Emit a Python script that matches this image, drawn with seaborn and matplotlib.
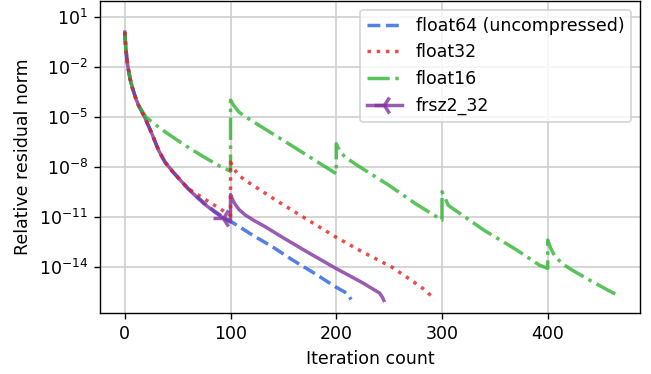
import numpy as np
import pandas as pd
import matplotlib
matplotlib.use("Agg")
import matplotlib.pyplot as plt
from matplotlib.ticker import FixedLocator, NullLocator
import seaborn as sns

# values (log10 of the relative residual norm)
head_iter = [0, 1, 2, 3, 5, 7, 10, 13, 18, 25, 32, 38, 45, 52, 60]
head_log = [0.1, -0.9, -1.5, -2.0, -2.7, -3.2, -3.8, -4.3, -4.9, -5.9, -7.0, -7.7, -8.25, -8.75, -9.3]

f64_iter = head_iter + [68, 75, 85, 93, 100, 120, 140, 158, 180, 199, 208, 212, 214]
f64_log = head_log + [-9.75, -10.15, -10.65, -11.0, -11.25, -12.05, -12.8, -13.55, -14.4, -15.18, -15.5, -15.75, -15.95]

f32_iter = head_iter + [70, 80, 90, 100, 100, 103, 108, 114, 125, 142, 170, 199, 225, 252, 270, 284, 290, 292]
f32_log = head_log + [-9.7, -10.1, -10.5, -10.9, -7.7, -8.1, -8.5, -8.8, -9.25, -9.95, -11.05, -12.18,
                      -13.1, -13.98, -14.75, -15.38, -15.75, -16.0]

f16_iter = head_iter[:8] + [20, 35, 57, 75, 90, 100, 100, 103, 108, 114, 150, 170, 200, 200, 203, 208,
                            220, 250, 275, 300, 300, 303, 306, 315, 340, 370, 392, 400, 400, 403, 407,
                            415, 423, 440, 462, 464]
f16_log = head_log[:8] + [-5.0, -5.75, -6.7, -7.4, -7.95, -8.25, -3.98, -4.3, -4.7, -4.98, -6.4, -7.2,
                          -8.4, -6.6, -7.0, -7.38, -7.9, -9.1, -10.2, -11.18, -9.48, -9.88, -10.3, -10.7,
                          -11.8, -12.95, -13.88, -14.08, -12.38, -12.9, -13.38, -13.85, -14.18, -14.8,
                          -15.56, -15.6]

frsz_iter = head_iter + [68, 75, 85, 93, 100, 100, 103, 108, 114, 122, 132, 150, 170, 199, 212, 225, 241, 244, 245]
frsz_log = head_log + [-9.8, -10.2, -10.7, -11.05, -11.3, -9.65, -10.1, -10.55, -10.88, -11.2, -11.55,
                       -12.25, -13.0, -14.06, -14.5, -14.95, -15.56, -15.85, -16.0]

labels = ["float64 (uncompressed)", "float32", "float16", "frsz2_32"]
series = [(f64_iter, f64_log), (f32_iter, f32_log), (f16_iter, f16_log), (frsz_iter, frsz_log)]
colors = ["#285fe1", "#e61e1e", "#32b432", "#8232a0"]
styles = ["--", ":", "-.", "-"]
layers = [2.0, 2.3, 2.2, 2.1]

fig, ax = plt.subplots(figsize=(5.208, 2.992), dpi=125)

for lab, (it, lg), col, ls, z in zip(labels, series, colors, styles, layers):
    df = pd.DataFrame({"iter": it, "res": 10.0 ** np.array(lg)})
    sns.lineplot(data=df, x="iter", y="res", ax=ax, sort=False, estimator=None,
                 color=col, linestyle=ls, linewidth=2, alpha=0.8, label=lab, zorder=z)
    if lab == "frsz2_32":
        line = ax.lines[-1]
        line.set_marker("3")
        line.set_markevery([it.index(93)])
        line.set_markersize(12)
        line.set_markeredgewidth(2)
        line.set_markeredgecolor(col)

ax.set_yscale("log")
ax.set_ylim(10 ** -16.76, 10 ** 1.96)
ax.yaxis.set_major_locator(FixedLocator([10.0 ** k for k in [1, -2, -5, -8, -11, -14]]))
ax.yaxis.set_minor_locator(NullLocator())
ax.set_xticks([0, 100, 200, 300, 400])
ax.grid(True, color="#d0d0d0", linewidth=1)
ax.set_axisbelow(True)
ax.set_xlabel("Iteration count")
ax.set_ylabel("Relative residual norm")
handles, labs = ax.get_legend_handles_labels()
ax.legend(handles, labs, loc="upper right")

fig.subplots_adjust(left=0.154, right=0.983, bottom=0.163, top=0.997)
fig.savefig("out.png", dpi=125)
